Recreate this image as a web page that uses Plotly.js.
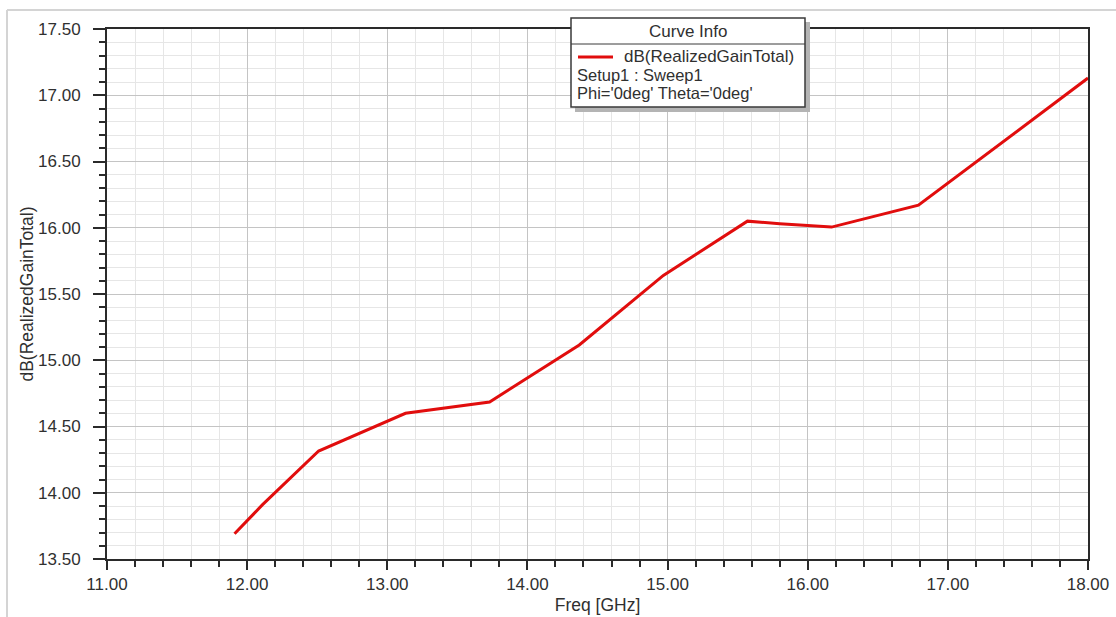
<!DOCTYPE html>
<html>
<head>
<meta charset="utf-8">
<script src="https://cdn.plot.ly/plotly-3.0.1.min.js"></script>
<style>
  html, body { margin: 0; padding: 0; background: #ffffff; }
  #chart { width: 1116px; height: 617px; }
</style>
</head>
<body>
<div id="chart"></div>
<script>
// ---- data ----
const freqGHz = [11.91, 12.11, 12.51, 13.13, 13.73, 14.37, 14.97, 15.57, 15.80, 16.17, 16.79, 18.00];
const gainDB  = [13.69, 13.91, 14.315, 14.60, 14.685, 15.115, 15.64, 16.05, 16.03, 16.005, 16.17, 17.13];
const seriesName = "dB(RealizedGainTotal)";
const legendTitle = "Curve Info";
const legendLines = ["Setup1 : Sweep1", "Phi='0deg' Theta='0deg'"];
const xTitle = "Freq [GHz]";
const yTitle = "dB(RealizedGainTotal)";

// ---- layout geometry ----
const W = 1116, H = 617;
const M = { l: 107, r: 28, t: 29, b: 58 };
const PW = W - M.l - M.r, PH = H - M.t - M.b;
const px = x => (x - M.l) / PW;          // pixel -> paper x
const py = y => (H - M.b - y) / PH;      // pixel -> paper y

const FONT = "Liberation Sans, Arial, sans-serif";
const RED = "#e10d0d";
const TXT = "#303030";

const trace = {
  x: freqGHz, y: gainDB, type: "scatter", mode: "lines",
  name: seriesName,
  line: { color: RED, width: 3 },
  showlegend: false, hoverinfo: "x+y"
};

const axisCommon = {
  showline: true, linecolor: "#2a2a2a", linewidth: 2, mirror: true,
  ticks: "outside", tickcolor: "#2a2a2a", tickwidth: 2,
  showgrid: true, gridcolor: "#c4c4c4", gridwidth: 1,
  zeroline: false,
  tickfont: { family: FONT, size: 17, color: TXT },
  fixedrange: true
};

const layout = {
  width: W, height: H,
  margin: M,
  paper_bgcolor: "#ffffff", plot_bgcolor: "#ffffff",
  xaxis: Object.assign({}, axisCommon, {
    range: [11, 18], dtick: 1, tick0: 11, tickformat: ".2f", ticklen: 9,
    minor: { dtick: 0.2, showgrid: true, gridcolor: "#e6e6e6", ticks: "outside", ticklen: 6, tickcolor: "#2a2a2a", tickwidth: 2 },
    title: { text: xTitle, font: { family: FONT, size: 17.5, color: TXT }, standoff: 5 }
  }),
  yaxis: Object.assign({}, axisCommon, {
    range: [13.5, 17.5], dtick: 0.5, tick0: 13.5, tickformat: ".2f", ticklen: 12,
    ticklabelstandoff: 9,
    minor: { dtick: 0.1, showgrid: true, gridcolor: "#e6e6e6", ticks: "outside", ticklen: 6, tickcolor: "#2a2a2a", tickwidth: 2 },
    title: { text: yTitle, font: { family: FONT, size: 17.5, color: TXT }, standoff: 0 }
  }),
  shapes: [
    // outer frame (top & left light gray lines)
    { type: "line", xref: "paper", yref: "paper", x0: px(7), x1: px(W), y0: py(10), y1: py(10), line: { color: "#d4d4d4", width: 2 } },
    { type: "line", xref: "paper", yref: "paper", x0: px(7), x1: px(7), y0: py(10), y1: py(H), line: { color: "#d4d4d4", width: 2 } },
    // legend shadow
    { type: "rect", xref: "paper", yref: "paper", x0: px(575), x1: px(810), y0: py(22), y1: py(112), fillcolor: "#b4b4b4", line: { width: 0 }, layer: "above" },
    // legend box
    { type: "rect", xref: "paper", yref: "paper", x0: px(571), x1: px(805), y0: py(18), y1: py(107), fillcolor: "#ffffff", line: { color: "#3a3a3a", width: 1.5 }, layer: "above" },
    // legend separator
    { type: "line", xref: "paper", yref: "paper", x0: px(571), x1: px(805), y0: py(44), y1: py(44), line: { color: "#3a3a3a", width: 1 }, layer: "above" },
    // legend sample line
    { type: "line", xref: "paper", yref: "paper", x0: px(578), x1: px(613), y0: py(57), y1: py(57), line: { color: RED, width: 3 }, layer: "above" }
  ],
  annotations: [
    { xref: "paper", yref: "paper", x: px(688), y: py(31), xanchor: "center", yanchor: "middle", showarrow: false,
      text: legendTitle, font: { family: FONT, size: 17, color: TXT } },
    { xref: "paper", yref: "paper", x: px(622), y: py(57), xanchor: "left", yanchor: "middle", showarrow: false,
      text: seriesName, font: { family: FONT, size: 17, color: TXT } },
    { xref: "paper", yref: "paper", x: px(575), y: py(75), xanchor: "left", yanchor: "middle", showarrow: false,
      text: legendLines[0], font: { family: FONT, size: 16.5, color: TXT } },
    { xref: "paper", yref: "paper", x: px(575), y: py(93), xanchor: "left", yanchor: "middle", showarrow: false,
      text: legendLines[1], font: { family: FONT, size: 16.5, color: TXT } }
  ]
};

Plotly.newPlot("chart", [trace], layout, { displayModeBar: false, staticPlot: true });
</script>
</body>
</html>
